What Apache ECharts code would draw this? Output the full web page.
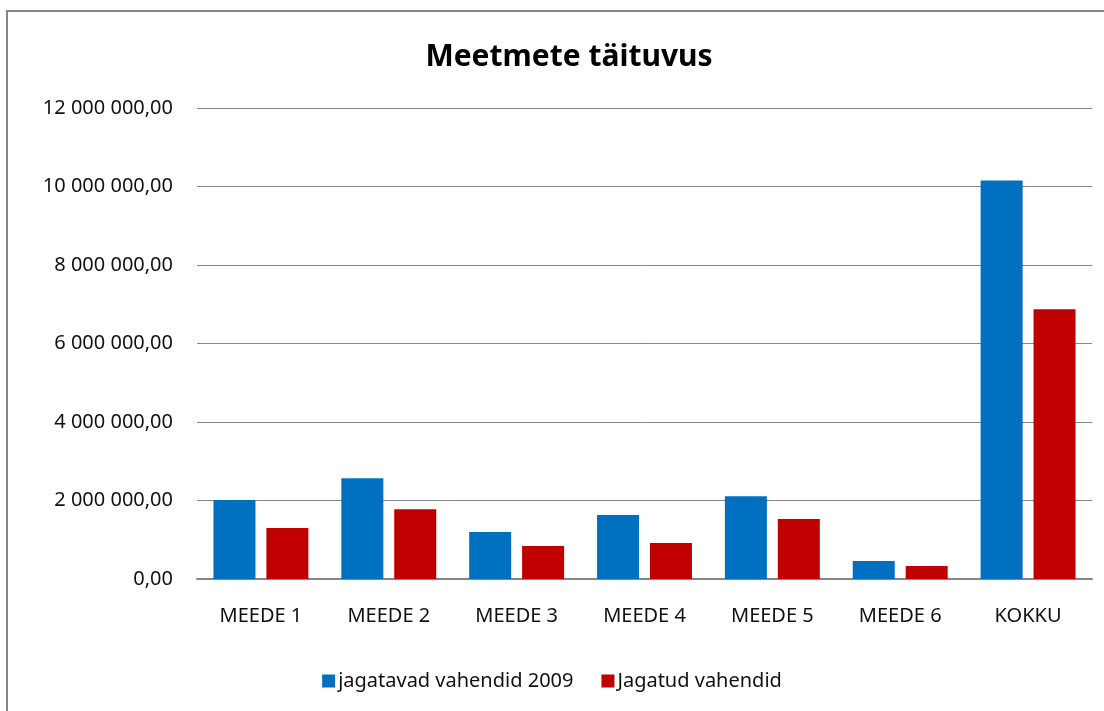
<!DOCTYPE html>
<html>
<head>
<meta charset="utf-8">
<style>
html,body{margin:0;padding:0;background:#fff;}
#chart{width:1104px;height:711px;}
</style>
<script src="https://cdn.jsdelivr.net/npm/echarts@6/dist/echarts.min.js"></script>
</head>
<body>
<div id="chart"></div>
<script>
const categories = ['MEEDE 1','MEEDE 2','MEEDE 3','MEEDE 4','MEEDE 5','MEEDE 6','KOKKU'];
const seriesNames = ['jagatavad vahendid 2009','Jagatud vahendid'];
const jagatavad = [2010000, 2570000, 1200000, 1630000, 2110000, 460000, 10150000];
const jagatud = [1300000, 1780000, 840000, 920000, 1530000, 330000, 6870000];
const titleText = 'Meetmete täituvus';

function fmt(v){
  const s = Math.round(v).toString().replace(/\B(?=(\d{3})+(?!\d))/g,' ');
  return s + ',00';
}

const chart = echarts.init(document.getElementById('chart'));
chart.setOption({
  backgroundColor:'#ffffff',
  animation:false,
  textStyle:{fontFamily:'Noto Sans'},
  title:{
    text:titleText,
    left:564, top:37, textAlign:'center',
    textStyle:{fontFamily:'Noto Sans', fontWeight:'bold', fontSize:30, color:'#000'}
  },
  graphic:[{
    type:'rect', shape:{x:7, y:11, width:1120, height:720},
    style:{fill:'none', stroke:'#868686', lineWidth:2}, silent:true
  }],
  legend:{
    data:seriesNames, bottom:15, left:'center',
    itemWidth:13, itemHeight:13, itemGap:28,
    icon:'rect',
    textStyle:{fontFamily:'Noto Sans', fontSize:20, color:'#111', padding:[0,0,0,-2]}
  },
  grid:{left:197, right:12, top:108, bottom:132, containLabel:false},
  xAxis:{
    type:'category', data:categories,
    axisLine:{lineStyle:{color:'#868686', width:2}},
    axisTick:{show:false},
    axisLabel:{fontFamily:'Noto Sans', fontSize:20, color:'#111', margin:27}
  },
  yAxis:{
    type:'value', min:0, max:12000000, interval:2000000,
    axisLine:{show:false}, axisTick:{show:false},
    splitLine:{lineStyle:{color:'#868686', width:1}},
    axisLabel:{fontFamily:'Noto Sans', fontSize:20, color:'#111', margin:24, formatter:fmt}
  },
  series:[
    {name:seriesNames[0], type:'bar', data:jagatavad, barWidth:42, barGap:'26%', itemStyle:{color:'#0070C0'}},
    {name:seriesNames[1], type:'bar', data:jagatud, barWidth:42, itemStyle:{color:'#C00000'}}
  ]
});
</script>
</body>
</html>
